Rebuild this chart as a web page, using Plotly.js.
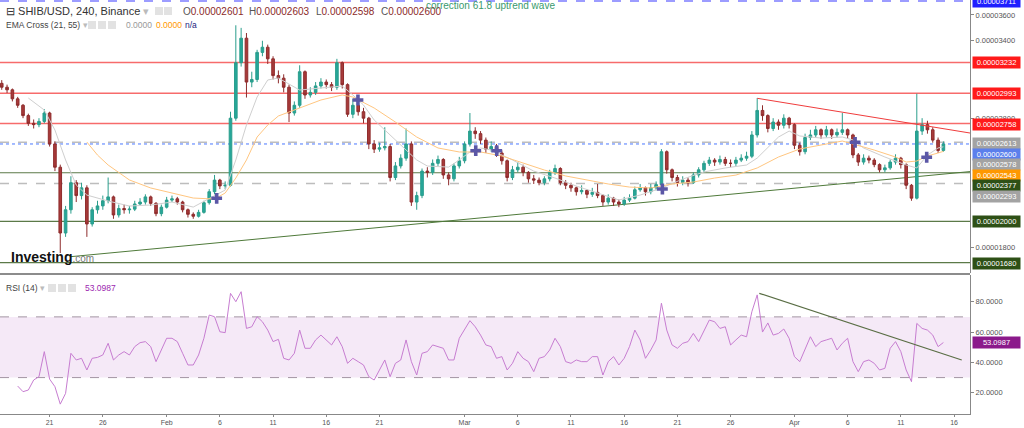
<!DOCTYPE html>
<html><head><meta charset="utf-8">
<script src="https://cdn.plot.ly/plotly-3.0.1.min.js"></script>
<style>html,body{margin:0;padding:0;background:#fff}#chart{width:1024px;height:428px}</style>
</head><body><div id="chart"></div>
<script>
// ---- DATA (prices in units of 1e-8 USD, 12h candles from 2022-01-16 12:00) ----
const open = [3070,3040,3020,2950,2900,2820,2760,2750,2775,2840,
2600,2420,1910,2090,2300,2200,2260,1980,2090,2120,
2160,2190,2050,2100,2090,2095,2135,2150,2190,2140,
2060,2110,2165,2175,2150,2090,2055,2040,2070,2145,
2230,2320,2275,2280,2800,3230,3420,3080,3100,3310,
3350,3260,3130,3110,3040,2840,2900,3160,2980,3000,
3050,3080,3060,3040,3230,3060,2830,2900,2850,2800,
2600,2560,2570,2580,2340,2430,2490,2600,2150,2200,
2390,2380,2450,2480,2360,2330,2430,2470,2600,2700,
2680,2630,2560,2580,2530,2470,2340,2400,2420,2380,
2330,2320,2300,2330,2380,2410,2300,2280,2260,2230,
2240,2210,2225,2200,2150,2180,2150,2135,2165,2180,
2245,2260,2230,2260,2285,2540,2400,2340,2300,2320,
2300,2360,2400,2450,2475,2460,2480,2450,2450,2475,
2490,2505,2670,2860,2820,2720,2770,2745,2800,2750,
2590,2540,2650,2670,2710,2670,2710,2670,2690,2710,
2670,2515,2460,2490,2475,2440,2400,2415,2460,2490,
2440,2280,2180,2700,2750,2710,2630,2550];
const close = [3040,3020,2950,2900,2820,2760,2750,2775,2840,2600,
2420,1910,2090,2300,2200,2260,1980,2090,2120,2160,
2190,2050,2100,2090,2095,2135,2150,2190,2140,2060,
2110,2165,2175,2150,2090,2055,2040,2070,2145,2230,
2320,2275,2280,2800,3230,3420,3080,3100,3310,3350,
3260,3130,3110,3040,2840,2900,3160,2980,3000,3050,
3080,3060,3040,3230,3060,2830,2900,2850,2800,2600,
2560,2570,2580,2340,2430,2490,2600,2150,2200,2390,
2380,2450,2480,2360,2330,2430,2470,2600,2700,2680,
2630,2560,2580,2530,2470,2340,2400,2420,2380,2330,
2320,2300,2330,2380,2410,2300,2280,2260,2230,2240,
2210,2225,2200,2150,2180,2150,2135,2165,2180,2245,
2260,2230,2260,2285,2540,2400,2340,2300,2320,2300,
2360,2400,2450,2475,2460,2480,2450,2450,2475,2490,
2505,2670,2860,2820,2720,2770,2745,2800,2750,2590,
2540,2650,2670,2710,2670,2710,2670,2690,2710,2670,
2515,2460,2490,2475,2440,2400,2415,2460,2490,2440,
2280,2180,2700,2750,2710,2630,2550,2600];
const high = [3095,3060,3030,2965,2910,2835,2790,2800,2870,2850,
2620,2440,2120,2350,2320,2300,2280,2110,2160,2200,
2340,2200,2130,2130,2120,2160,2180,2210,2200,2150,
2130,2190,2200,2190,2160,2100,2070,2090,2160,2250,
2360,2330,2310,2850,3520,3500,3460,3160,3330,3400,
3370,3280,3170,3140,3060,2930,3210,3170,3040,3080,
3110,3100,3080,3260,3240,3070,2950,2930,2880,2810,
2630,2610,2730,2600,2460,2520,2720,2620,2230,2410,
2420,2480,2510,2490,2380,2450,2500,2620,2840,2730,
2700,2650,2620,2600,2550,2480,2430,2460,2440,2390,
2360,2340,2350,2400,2440,2420,2320,2300,2270,2280,
2250,2260,2290,2210,2210,2190,2170,2190,2210,2270,
2290,2270,2290,2310,2560,2550,2410,2360,2350,2340,
2380,2420,2470,2500,2490,2510,2500,2480,2500,2520,
2540,2700,2956,2900,2830,2800,2790,2830,2810,2760,
2610,2680,2710,2740,2720,2740,2720,2720,2840,2720,
2680,2530,2520,2510,2490,2450,2440,2480,2520,2500,
2450,2290,2990,2800,2780,2730,2650,2620];
const low = [3020,2995,2930,2880,2800,2740,2720,2730,2760,2580,
2390,1755,1880,2060,2150,2170,1880,1960,2060,2090,
2140,2020,2030,2060,2060,2080,2120,2130,2120,2040,
2040,2100,2150,2130,2070,2030,2020,2030,2060,2130,
2210,2250,2250,2270,2780,3200,2960,3040,3080,3280,
3220,3100,3070,3000,2770,2820,2880,2950,2960,2980,
3030,3030,3010,3020,3030,2810,2800,2820,2760,2560,
2530,2540,2550,2310,2320,2410,2470,2120,2090,2180,
2340,2360,2430,2330,2280,2310,2410,2450,2580,2640,
2600,2530,2540,2500,2440,2310,2320,2380,2350,2300,
2290,2280,2280,2310,2360,2280,2250,2230,2200,2210,
2180,2190,2180,2120,2130,2120,2110,2120,2150,2170,
2230,2200,2210,2240,2270,2370,2310,2270,2280,2270,
2290,2340,2380,2430,2430,2440,2430,2420,2430,2460,
2470,2490,2650,2780,2690,2700,2710,2720,2720,2560,
2510,2520,2630,2650,2640,2650,2640,2650,2670,2640,
2490,2430,2440,2450,2420,2380,2380,2400,2440,2410,
2250,2160,2170,2670,2680,2610,2530,2540];

// EMA 21 (grey) and EMA 55 (orange), read at candle indices
const ema21Idx = [5,8,10,12,14,16,20,24,28,32,36,40,42,44,46,48,50,52,56,60,64,66,68,70,72,74,76,78,80,84,86,88,90,92,96,100,104,108,112,116,120,124,128,132,136,140,142,144,146,148,150,154,158,160,162,166,170,172,174,176,177];
const ema21Val = [2956,2863,2708,2476,2282,2204,2158,2119,2127,2150,2111,2197,2243,2476,2747,2964,3096,3111,3018,3034,3049,2980,2902,2786,2708,2631,2553,2476,2429,2421,2476,2538,2569,2553,2476,2390,2336,2274,2220,2166,2204,2258,2328,2383,2414,2437,2491,2576,2654,2700,2662,2646,2654,2631,2569,2499,2437,2414,2514,2569,2578];
const ema55Idx = [16,18,20,24,28,32,36,40,42,44,46,48,50,52,56,60,64,66,70,74,78,82,86,90,94,98,102,106,110,114,118,122,126,130,134,138,142,146,150,154,158,160,164,168,170,172,174,176,177];
const ema55Val = [2615,2514,2437,2321,2259,2220,2181,2173,2220,2336,2476,2654,2747,2817,2879,2941,2980,2964,2879,2770,2654,2569,2538,2538,2507,2452,2398,2352,2321,2290,2266,2259,2290,2305,2336,2359,2414,2499,2561,2592,2623,2600,2553,2499,2460,2468,2507,2530,2543];

// EMA cross markers
const crossTimes = ['2022-02-05 16:50','2022-02-18 23:30','2022-03-02 01:10','2022-03-04 00:30','2022-03-19 14:10','2022-04-06 16:50','2022-04-13 10:20'];
const crossVals = [2179,2941,2548,2548,2251,2613,2497];

// RSI(14)
const rsi = [null,null,null,24.4,20.7,21.8,28.4,30.6,47.1,29.0,
24.0,12.5,19.6,46.0,41.6,42.7,35.0,42.7,43.3,44.9,
52.6,41.6,44.9,47.1,44.9,50.4,53.0,53.7,50.4,40.5,
48.2,55.9,55.9,53.7,46.0,38.3,38.3,44.9,55.9,71.2,
70.1,60.2,59.6,85.5,80.0,86.6,62.4,63.5,70.1,66.8,
61.3,53.7,55.2,42.7,41.6,46.0,61.3,49.3,49.3,54.8,
58.0,54.8,51.5,56.9,50.4,39.4,42.7,40.5,38.3,30.6,
28.4,35.0,41.6,30.6,39.4,41.6,54.8,40.5,31.7,46.0,
47.1,51.5,50.4,49.3,41.6,41.6,55.9,61.3,67.5,63.5,
58.0,51.5,50.4,42.7,43.8,35.0,39.4,47.1,42.7,40.5,
33.9,42.7,43.8,48.2,55.9,50.4,40.5,39.4,41.6,40.5,
40.5,43.8,43.8,31.7,40.5,43.8,38.3,42.7,50.4,61.3,
54.8,42.7,48.2,54.8,79.0,61.3,51.5,49.3,52.6,53.7,
59.1,53.7,61.3,67.9,66.8,62.4,63.5,51.5,54.8,58.0,
56.9,73.4,84.5,60.0,66.0,58.0,59.1,62.0,55.9,43.8,
40.5,48.2,56.9,50.4,53.7,54.8,55.9,48.2,52.6,55.9,
40.5,33.9,40.5,41.6,39.4,35.0,36.1,49.3,53.7,47.1,
35.0,27.3,65.7,62.4,61.3,58.0,50.4,53.1];

// Levels and trendlines
const redLevels = [3232, 2993, 2758];
const greenLevels = [2377, 2000, 1680];
const greyDashLevels = [2613, 2293];
const currentPrice = 2600;
const topLevel = 3711;
const upTrend = {t:['2022-01-22 22:00','2022-04-17 12:00'], v:[1726, 2386]};
const downTrend = {t:['2022-03-28 12:15','2022-04-17 12:00'], v:[2954, 2685]};
const rsiTrend = {t:['2022-03-28 16:50','2022-04-16 17:20'], v:[85.5, 41.6]};

const dateTicks = ['2022-01-21','2022-01-26','2022-02-01','2022-02-06','2022-02-11','2022-02-16','2022-02-21','2022-03-01','2022-03-06','2022-03-11','2022-03-16','2022-03-21','2022-03-26','2022-04-01','2022-04-06','2022-04-11','2022-04-16'];
const dateTickText = ['21','26','Feb','6','11','16','21','Mar','6','11','16','21','26','Apr','6','11','16'];
const priceTicks = [1800,2800,3400,3600];   // the other ticks are hidden behind level labels
const rsiTicks = [20,40,60,80];

// ---- BUILD ----
const S = 1e-8;
const sc = a => a.map(v => v == null ? null : v*S);
function candleTime(i){ const d = new Date(Date.UTC(2022,0,16,12) + i*43200000); return d.toISOString().slice(0,16).replace('T',' '); }
const times = close.map((_, i) => candleTime(i));

const W = 970, H = 414;
const px = x => x / W, py = y => (H - y) / H;
const FONT = 'Liberation Sans, Arial, sans-serif';

const traces = [
  {type:'candlestick', x:times, open:sc(open), high:sc(high), low:sc(low), close:sc(close),
   xaxis:'x', yaxis:'y', whiskerwidth:0,
   increasing:{line:{color:'#2b9e8c', width:1}, fillcolor:'#26a69a'},
   decreasing:{line:{color:'#8e2c2c', width:1}, fillcolor:'#a83a3a'}, showlegend:false, hoverinfo:'skip'},
  {type:'scatter', mode:'lines', x:ema21Idx.map(candleTime), y:sc(ema21Val), yaxis:'y',
   line:{color:'#cfcfcf', width:1}, hoverinfo:'skip'},
  {type:'scatter', mode:'lines', x:ema55Idx.map(candleTime), y:sc(ema55Val), yaxis:'y',
   line:{color:'#ffc680', width:1}, hoverinfo:'skip'},
  {type:'scatter', mode:'markers', x:crossTimes, y:sc(crossVals), yaxis:'y',
   marker:{symbol:'cross', size:9, color:'#5b57a6', line:{width:0}}, hoverinfo:'skip'},
  {type:'scatter', mode:'lines', x:times, y:rsi, yaxis:'y2',
   line:{color:'#c77dd1', width:1}, hoverinfo:'skip', connectgaps:false}
];

const shapes = [];
shapes.push({type:'rect', xref:'paper', yref:'y2', x0:0, x1:1, y0:30, y1:70, fillcolor:'rgba(156,39,176,0.1)', line:{width:0}, layer:'below'});
[30,70].forEach(v => shapes.push({type:'line', xref:'paper', yref:'y2', x0:0, x1:1, y0:v, y1:v, line:{color:'#a394a3', width:1, dash:'dash'}, layer:'below'}));
redLevels.forEach(v => shapes.push({type:'line', xref:'paper', yref:'y', x0:0, x1:1, y0:v*S, y1:v*S, line:{color:'rgba(245,70,70,0.8)', width:1.5}, layer:'below'}));
greenLevels.forEach(v => shapes.push({type:'line', xref:'paper', yref:'y', x0:0, x1:1, y0:v*S, y1:v*S, line:{color:'#5b7a48', width:1.2}, layer:'below'}));
greyDashLevels.forEach(v => shapes.push({type:'line', xref:'paper', yref:'y', x0:0, x1:1, y0:v*S, y1:v*S, line:{color:'#bdbdbd', width:1.5, dash:'dash'}, layer:'below'}));
shapes.push({type:'line', xref:'paper', yref:'y', x0:0, x1:1, y0:currentPrice*S, y1:currentPrice*S, line:{color:'#4a78ff', width:1, dash:'dot'}, layer:'below'});
shapes.push({type:'line', xref:'paper', yref:'y', x0:0, x1:1, y0:topLevel*S, y1:topLevel*S, line:{color:'#9c9cff', width:2.5, dash:'dash'}, layer:'below'});
shapes.push({type:'line', xref:'x', yref:'y', x0:upTrend.t[0], x1:upTrend.t[1], y0:upTrend.v[0]*S, y1:upTrend.v[1]*S, line:{color:'#4f7a3a', width:1}, layer:'below'});
shapes.push({type:'line', xref:'x', yref:'y', x0:downTrend.t[0], x1:downTrend.t[1], y0:downTrend.v[0]*S, y1:downTrend.v[1]*S, line:{color:'#f03c3c', width:1}});
shapes.push({type:'line', xref:'x', yref:'y2', x0:rsiTrend.t[0], x1:rsiTrend.t[1], y0:rsiTrend.v[0], y1:rsiTrend.v[1], line:{color:'#5a6e45', width:1.2}});
shapes.push({type:'line', xref:'paper', yref:'paper', x0:0, x1:1, y0:py(274), y1:py(274), line:{color:'#666', width:1.5}});
[[155,11],[164,11],[88,25],[98,25],[108,25],[48,288],[58,288],[68,288]].forEach(([x,y]) =>
  shapes.push({type:'rect', xref:'paper', yref:'paper', x0:px(x), x1:px(x+8), y0:py(y+4), y1:py(y-4), fillcolor:'#e2e2e2', line:{width:0}}));

function ann(x, y, text, size, color, extra){
  return Object.assign({xref:'paper', yref:'paper', x:px(x), y:py(y), xanchor:'left', yanchor:'middle',
    text:text, showarrow:false, font:{family:FONT, size:size, color:color}}, extra||{});
}
const annotations = [
  ann(4, 11, '⊟ SHIB/USD, 240, Binance <span style="color:#bbb">▾</span>', 11, '#333'),
  ann(181, 11, 'O<span style="color:#8b2a2a">0.00002601</span>', 10, '#555'),
  ann(247, 11, 'H<span style="color:#8b2a2a">0.00002603</span>', 10, '#555'),
  ann(314, 11, 'L<span style="color:#8b2a2a">0.00002598</span>', 10, '#555'),
  ann(379, 11, 'C<span style="color:#8b2a2a">0.00002600</span>', 10, '#555'),
  ann(424, 6, 'correction 61.8 uptrend wave', 10, '#3a9a6e'),
  ann(4, 25, 'EMA Cross (21, 55) <span style="color:#bbb">▾</span>', 8.5, '#444'),
  ann(124, 25, '0.0000', 8.5, '#999'),
  ann(154, 25, '0.0000', 8.5, '#ff9800'),
  ann(183, 25, 'n/a', 8.5, '#1a237e'),
  ann(4, 288, 'RSI (14) <span style="color:#bbb">▾</span>', 8.5, '#444'),
  ann(83, 288, '53.0987', 8.5, '#9c27b0'),
  ann(9, 257, '<b>Investing</b><span style="font-size:10px;color:#777">.com</span>', 14, '#111')
];
const priceLabels = [
  [topLevel,'#1f1fff',1],[3232,'#ff1a1a',62.7],[2993,'#ff1a1a',93.7],[2758,'#ff1a1a',124.7],
  [2613,'#a3a3a3',143.3],[currentPrice,'#5b7fec',154],[2578,'#a3a3a3',164.3],[2543,'#ff9800',175],
  [2377,'#2e5016',185.7],[2293,'#a3a3a3',196],[2000,'#2e5016',222],[1680,'#2e5016',263.3]
];
priceLabels.forEach(([v,bg,y]) => annotations.push(ann(972, y, (v*S).toFixed(8), 7.5, '#fff',
  {bgcolor:bg, width:45, height:9, align:'center'})));
annotations.push(ann(972, 342.7, '53.0987', 7.5, '#fff', {bgcolor:'#8b1a8b', width:45, height:9, align:'center'}));

const layout = {
  width:1024, height:428, margin:{l:0, r:54, t:0, b:14, pad:0},
  paper_bgcolor:'#fff', plot_bgcolor:'#fff', showlegend:false,
  xaxis:{type:'date', anchor:'y2', range:['2022-01-16 08:05','2022-04-17 12:00'],
    tickvals:dateTicks, ticktext:dateTickText, ticks:'outside', ticklen:2, tickcolor:'#888',
    showline:true, linecolor:'#888', linewidth:1, showgrid:false, zeroline:false,
    rangeslider:{visible:false}, automargin:false, tickfont:{family:FONT, size:7, color:'#555'}},
  yaxis:{domain:[py(273), 1], side:'right', range:[1600*S, 3716*S], tickvals:sc(priceTicks), tickformat:'.8f',
    ticks:'outside', ticklen:3, tickcolor:'#888', showline:true, linecolor:'#888', showgrid:false, zeroline:false,
    automargin:false, tickfont:{family:FONT, size:7.5, color:'#555'}},
  yaxis2:{domain:[0, py(275)], side:'right', range:[6.0, 97.6], tickvals:rsiTicks, tickformat:'.4f',
    ticks:'outside', ticklen:3, tickcolor:'#888', showline:true, linecolor:'#888', showgrid:false, zeroline:false,
    automargin:false, tickfont:{family:FONT, size:7.5, color:'#555'}},
  shapes:shapes, annotations:annotations
};
Plotly.newPlot('chart', traces, layout, {staticPlot:true, displayModeBar:false});
</script></body></html>
